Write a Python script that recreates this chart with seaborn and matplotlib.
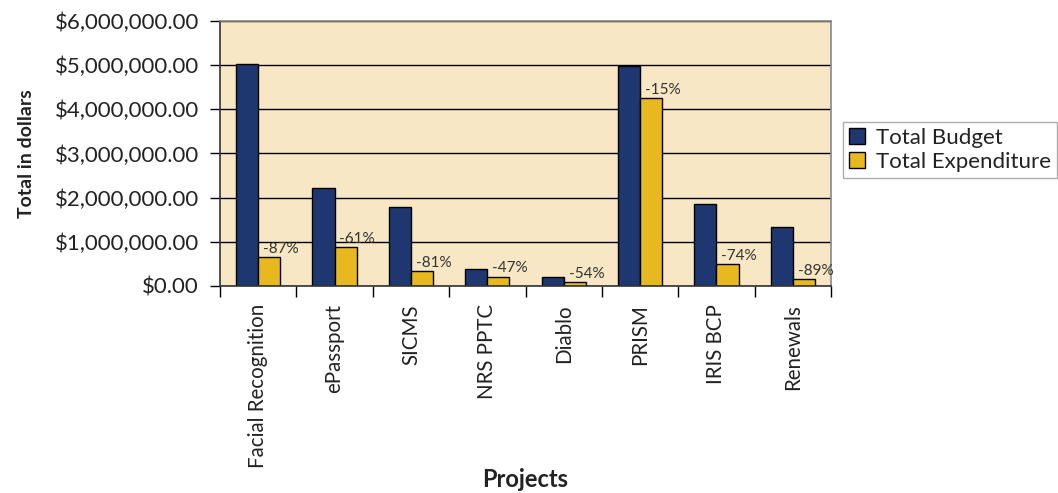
import numpy as np
import pandas as pd
import matplotlib
matplotlib.use("Agg")
import matplotlib.pyplot as plt
import seaborn as sns
from matplotlib.ticker import FuncFormatter, FixedLocator

projects = ["Facial Recognition", "ePassport", "SICMS", "NRS PPTC", "Diablo", "PRISM", "IRIS BCP", "Renewals"]
total_budget = [5030000, 2230000, 1780000, 380000, 197000, 4990000, 1850000, 1330000]
total_expenditure = [650000, 880000, 335000, 210000, 88000, 4250000, 500000, 150000]
pct_labels = ["-87%", "-61%", "-81%", "-47%", "-54%", "-15%", "-74%", "-89%"]
series_names = ["Total Budget", "Total Expenditure"]
colors = ["#1F3770", "#E8B820"]

df = pd.DataFrame({
    "Project": projects * 2,
    "Value": total_budget + total_expenditure,
    "Series": [series_names[0]] * len(projects) + [series_names[1]] * len(projects),
})

sns.set_theme(style="white")
plt.rcParams["font.family"] = ["Lato", "DejaVu Sans"]

fig = plt.figure(figsize=(10.58, 4.93), dpi=100)
ax = fig.add_axes([220 / 1058, 1 - 286 / 493, (831 - 220) / 1058, (286 - 21) / 493])
ax.set_facecolor("#F7E7C5")

sns.barplot(data=df, x="Project", y="Value", hue="Series", palette=colors,
            width=0.58, edgecolor="black", linewidth=1.0, saturation=1, ax=ax,
            legend=True)

ax.set_ylim(0, 6000000)
ax.set_xlim(-0.5, len(projects) - 0.5)
ax.yaxis.set_major_locator(FixedLocator(np.arange(0, 6000001, 1000000)))
ax.yaxis.set_major_formatter(FuncFormatter(lambda v, p: "${:,.2f}".format(v)))
ax.grid(axis="y", color="black", linewidth=1.0)
ax.set_axisbelow(True)

ax.tick_params(axis="y", which="major", direction="out", length=7, width=1, color="black",
               left=True, labelsize=16, labelcolor="#222222", pad=8)
ax.set_xticks(range(len(projects)))
ax.set_xticklabels(projects, rotation=90, fontsize=14.8, color="#222222")
ax.tick_params(axis="x", which="major", length=0, pad=13)
ax.set_xticks(np.arange(-0.5, len(projects), 1), minor=True)
ax.tick_params(axis="x", which="minor", direction="out", length=8, width=1, color="black", bottom=True)

for side in ["left", "bottom"]:
    ax.spines[side].set_color("#333333")
    ax.spines[side].set_linewidth(1.2)
for side in ["top", "right"]:
    ax.spines[side].set_color("#888888")
    ax.spines[side].set_linewidth(1.2)
    ax.spines[side].set_visible(True)

ax.set_xlabel("Projects", fontsize=17, fontweight="bold", color="#222222", labelpad=0)
ax.set_ylabel("Total in dollars", fontsize=14, fontweight="bold", color="#222222", labelpad=14)

exp_container = ax.containers[1]
for patch, lab in zip(exp_container.patches, pct_labels):
    ax.annotate(lab, (patch.get_x(), patch.get_height()), xytext=(3.5, 1),
                textcoords="offset points", ha="left", va="bottom",
                fontsize=11, color="#333333")

handles, labels = ax.get_legend_handles_labels()
ax.legend_.remove()
leg = fig.legend(handles, labels, loc="upper left", bbox_to_anchor=(843 / 1058, 1 - 122 / 493),
                 bbox_transform=fig.transFigure, frameon=True, fancybox=False,
                 edgecolor="#999999", fontsize=16, handlelength=0.75, handleheight=0.75,
                 handletextpad=0.5, borderpad=0.25, labelspacing=0.2, borderaxespad=0)
leg.get_frame().set_linewidth(1.0)
for t in leg.get_texts():
    t.set_color("#222222")

fig.savefig("out.png", dpi=100, facecolor="white")
